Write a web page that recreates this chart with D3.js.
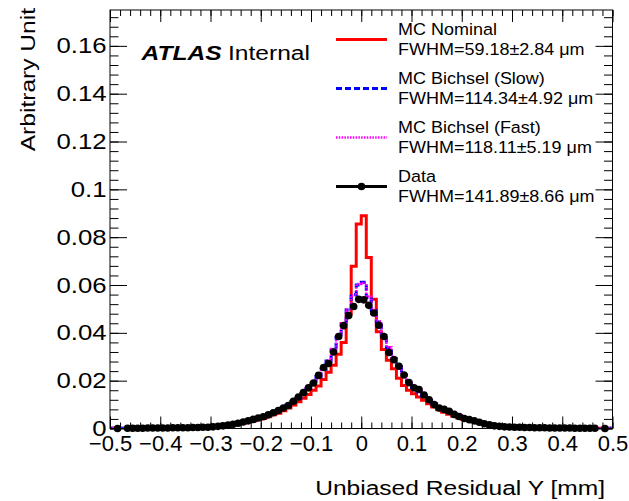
<!DOCTYPE html>
<html>
<head>
<meta charset="utf-8">
<script src="https://cdn.jsdelivr.net/npm/d3@7"></script>
<style>
  body { margin: 0; background: #fff; }
  text { font-family: "Liberation Sans", Arial, sans-serif; fill: #000; }
</style>
</head>
<body>
<svg width="629" height="501"></svg>
<script>
// bin centres (100 bins of 0.01 mm)
const binCenters = [
  -0.495,-0.485,-0.475,-0.465,-0.455,-0.445,-0.435,-0.425,-0.415,-0.405,
  -0.395,-0.385,-0.375,-0.365,-0.355,-0.345,-0.335,-0.325,-0.315,-0.305,
  -0.295,-0.285,-0.275,-0.265,-0.255,-0.245,-0.235,-0.225,-0.215,-0.205,
  -0.195,-0.185,-0.175,-0.165,-0.155,-0.145,-0.135,-0.125,-0.115,-0.105,
  -0.095,-0.085,-0.075,-0.065,-0.055,-0.045,-0.035,-0.025,-0.015,-0.005,
  0.005,0.015,0.025,0.035,0.045,0.055,0.065,0.075,0.085,0.095,
  0.105,0.115,0.125,0.135,0.145,0.155,0.165,0.175,0.185,0.195,
  0.205,0.215,0.225,0.235,0.245,0.255,0.265,0.275,0.285,0.295,
  0.305,0.315,0.325,0.335,0.345,0.355,0.365,0.375,0.385,0.395,
  0.405,0.415,0.425,0.435,0.445,0.455,0.465,0.475,0.485,0.495
];

// MC Nominal
const mcNominal = [
  0.0001,0.0001,0.0001,0.0001,0.0001,0.0001,0.0001,0.0001,0.0002,0.0002,
  0.0002,0.0002,0.0002,0.0002,0.0003,0.0003,0.0003,0.0004,0.0004,0.0005,
  0.0006,0.0008,0.0010,0.0012,0.0016,0.0019,0.0023,0.0027,0.0032,0.0037,
  0.0042,0.0049,0.0057,0.0064,0.0074,0.0086,0.0098,0.0112,0.0126,0.0142,
  0.0160,0.0178,0.0205,0.0235,0.0265,0.0310,0.0360,0.0480,0.0678,0.0855,
  0.0890,0.0715,0.0540,0.0405,0.0330,0.0285,0.0250,0.0210,0.0180,0.0160,
  0.0145,0.0132,0.0118,0.0104,0.0090,0.0078,0.0068,0.0060,0.0051,0.0044,
  0.0038,0.0033,0.0028,0.0023,0.0019,0.0015,0.0012,0.0010,0.0008,0.0006,
  0.0005,0.0004,0.0004,0.0003,0.0003,0.0003,0.0002,0.0002,0.0002,0.0002,
  0.0002,0.0002,0.0001,0.0001,0.0001,0.0001,0.0001,0.0001,0.0001,0.0001
];

// MC Bichsel (Slow)
const mcBichselSlow = [
  0.0001,0.0001,0.0001,0.0001,0.0001,0.0001,0.0001,0.0002,0.0002,0.0002,
  0.0002,0.0002,0.0003,0.0003,0.0003,0.0003,0.0004,0.0004,0.0005,0.0005,
  0.0007,0.0009,0.0011,0.0014,0.0018,0.0022,0.0026,0.0031,0.0036,0.0042,
  0.0048,0.0056,0.0064,0.0074,0.0085,0.0097,0.0112,0.0128,0.0146,0.0166,
  0.0188,0.0216,0.0248,0.0282,0.0328,0.0382,0.0438,0.0495,0.0560,0.0600,
  0.0612,0.0548,0.0493,0.0445,0.0392,0.0338,0.0292,0.0258,0.0224,0.0194,
  0.0172,0.0153,0.0136,0.0118,0.0103,0.0090,0.0079,0.0069,0.0060,0.0052,
  0.0045,0.0039,0.0033,0.0028,0.0023,0.0018,0.0014,0.0011,0.0009,0.0007,
  0.0006,0.0005,0.0004,0.0004,0.0003,0.0003,0.0003,0.0002,0.0002,0.0002,
  0.0002,0.0002,0.0001,0.0001,0.0001,0.0001,0.0001,0.0001,0.0001,0.0001
];

// MC Bichsel (Fast)
const mcBichselFast = [
  0.0002,0.0001,0.0001,0.0001,0.0001,0.0001,0.0001,0.0002,0.0002,0.0002,
  0.0002,0.0002,0.0003,0.0003,0.0003,0.0004,0.0004,0.0004,0.0005,0.0006,
  0.0007,0.0009,0.0012,0.0015,0.0018,0.0022,0.0027,0.0032,0.0037,0.0043,
  0.0049,0.0057,0.0065,0.0075,0.0086,0.0098,0.0113,0.0130,0.0148,0.0168,
  0.0190,0.0218,0.0250,0.0285,0.0332,0.0385,0.0440,0.0498,0.0556,0.0604,
  0.0608,0.0552,0.0497,0.0448,0.0395,0.0340,0.0294,0.0260,0.0226,0.0196,
  0.0174,0.0155,0.0137,0.0120,0.0104,0.0091,0.0080,0.0070,0.0061,0.0053,
  0.0046,0.0039,0.0034,0.0028,0.0023,0.0019,0.0015,0.0012,0.0009,0.0007,
  0.0006,0.0005,0.0004,0.0004,0.0003,0.0003,0.0003,0.0002,0.0002,0.0002,
  0.0002,0.0002,0.0001,0.0001,0.0001,0.0001,0.0001,0.0001,0.0001,0.0002
];

// Data (null = empty bin, no marker)
const dataValues = [
  null,0.0000,null,0.0001,0.0001,0.0001,0.0001,0.0002,0.0002,0.0002,
  0.0002,0.0002,0.0003,0.0003,0.0003,0.0003,0.0004,0.0004,0.0005,0.0005,
  0.0007,0.0009,0.0011,0.0014,0.0018,0.0022,0.0027,0.0032,0.0038,0.0044,
  0.0049,0.0057,0.0066,0.0075,0.0086,0.0096,0.0114,0.0132,0.0150,0.0170,
  0.0190,0.0222,0.0255,0.0272,0.0320,0.0385,0.0430,0.0472,0.0510,0.0540,
  0.0538,0.0515,0.0483,0.0432,0.0385,0.0318,0.0288,0.0260,0.0224,0.0192,
  0.0170,0.0163,0.0140,0.0120,0.0100,0.0086,0.0080,0.0072,0.0059,0.0050,
  0.0042,0.0037,0.0032,0.0026,0.0020,0.0015,0.0011,0.0009,0.0007,0.0006,
  0.0005,0.0005,0.0004,0.0004,0.0003,0.0003,0.0003,0.0002,0.0002,0.0002,
  0.0002,0.0002,0.0001,0.0001,0.0001,0.0001,0.0001,null,0.0000,null
];

const xTickValues = [-0.5,-0.4,-0.3,-0.2,-0.1,0,0.1,0.2,0.3,0.4,0.5];
const xTickLabels = ["\u22120.5","\u22120.4","\u22120.3","\u22120.2","\u22120.1","0","0.1","0.2","0.3","0.4","0.5"];
const yTickValues = [0,0.02,0.04,0.06,0.08,0.1,0.12,0.14,0.16];
const yTickLabels = ["0","0.02","0.04","0.06","0.08","0.1","0.12","0.14","0.16"];

const legendTitles = ["MC Nominal","MC Bichsel (Slow)","MC Bichsel (Fast)","Data"];
const legendFwhm = ["FWHM=59.18\u00b12.84 \u03bcm","FWHM=114.34\u00b14.92 \u03bcm","FWHM=118.11\u00b15.19 \u03bcm","FWHM=141.89\u00b18.66 \u03bcm"];

// ---- drawing ----
const svg = d3.select("svg");
const frameL = 110, frameR = 612.5, frameT = 10, frameB = 428.5;
const binWidth = 0.01;
const SX = 1.17; // reference font is wider than Arial at the same height

const x = d3.scaleLinear().domain([-0.5, 0.5]).range([frameL, frameR]);
const y = d3.scaleLinear().domain([0, 0.175]).range([frameB, frameT]);

svg.append("defs").append("clipPath").attr("id", "frame")
  .append("rect").attr("x", frameL).attr("y", frameT)
  .attr("width", frameR - frameL).attr("height", frameB - frameT);

// step outline of a histogram
function histPoints(values) {
  const n = values.length;
  const pts = [[binCenters[0] - binWidth / 2, 0]];
  values.forEach((v, i) => pts.push([binCenters[i] - binWidth / 2, v || 0]));
  pts.push([binCenters[n - 1] + binWidth / 2, values[n - 1] || 0]);
  pts.push([binCenters[n - 1] + binWidth / 2, 0]);
  return pts;
}
const step = d3.line().x(d => x(d[0])).y(d => y(d[1])).curve(d3.curveStepAfter);

const plot = svg.append("g").attr("clip-path", "url(#frame)");
plot.append("path").attr("d", step(histPoints(mcNominal)))
  .attr("fill", "none").attr("stroke", "#ff0000").attr("stroke-width", 3);
plot.append("path").attr("d", step(histPoints(mcBichselSlow)))
  .attr("fill", "none").attr("stroke", "#0000ff").attr("stroke-width", 3)
  .attr("stroke-dasharray", "6,3");
plot.append("path").attr("d", step(histPoints(mcBichselFast)))
  .attr("fill", "none").attr("stroke", "#ff00ff").attr("stroke-width", 2.5)
  .attr("stroke-dasharray", "1.5,1.3");

// data points with horizontal bin-width bars
const pts = binCenters.map((c, i) => ({ c: c, v: dataValues[i] })).filter(d => d.v !== null);
svg.append("g").selectAll("line").data(pts).enter().append("line")
  .attr("x1", d => x(d.c - binWidth / 2)).attr("x2", d => x(d.c + binWidth / 2))
  .attr("y1", d => y(d.v)).attr("y2", d => y(d.v))
  .attr("stroke", "#000").attr("stroke-width", 2);
svg.append("g").selectAll("circle").data(pts).enter().append("circle")
  .attr("cx", d => x(d.c)).attr("cy", d => y(d.v)).attr("r", 3.8)
  .attr("fill", "#000");

// axes
const xMinor = d3.range(-0.5, 0.5001, 0.02);
const yMinor = d3.range(0, 0.1751, 0.004);

function styleAxis(g) {
  g.select(".domain").remove();
  g.selectAll("line").attr("stroke", "#000").attr("stroke-width", 1);
}

const gxb = svg.append("g").attr("transform", `translate(0,${frameB})`)
  .call(d3.axisBottom(x).tickValues(xTickValues).tickFormat((d, i) => xTickLabels[i])
    .tickSizeInner(-12).tickSizeOuter(0).tickPadding(7));
gxb.attr("font-size", 22).attr("font-family", null).call(styleAxis);
svg.append("g").attr("transform", `translate(0,${frameB})`)
  .call(d3.axisBottom(x).tickValues(xMinor).tickFormat("").tickSizeInner(-6).tickSizeOuter(0))
  .call(styleAxis);

svg.append("g").attr("transform", `translate(0,${frameT})`)
  .call(d3.axisTop(x).tickValues(xTickValues).tickFormat("").tickSizeInner(-12).tickSizeOuter(0))
  .call(styleAxis);
svg.append("g").attr("transform", `translate(0,${frameT})`)
  .call(d3.axisTop(x).tickValues(xMinor).tickFormat("").tickSizeInner(-6).tickSizeOuter(0))
  .call(styleAxis);

const gyl = svg.append("g").attr("transform", `translate(${frameL},0)`)
  .call(d3.axisLeft(y).tickValues(yTickValues).tickFormat((d, i) => yTickLabels[i])
    .tickSizeInner(-17).tickSizeOuter(0).tickPadding(3));
gyl.attr("font-size", 22).attr("font-family", null).call(styleAxis);
gyl.selectAll("text").attr("transform", `scale(${SX},1)`);
svg.append("g").attr("transform", `translate(${frameL},0)`)
  .call(d3.axisLeft(y).tickValues(yMinor).tickFormat("").tickSizeInner(-8.5).tickSizeOuter(0))
  .call(styleAxis);

svg.append("g").attr("transform", `translate(${frameR},0)`)
  .call(d3.axisRight(y).tickValues(yTickValues).tickFormat("").tickSizeInner(-17).tickSizeOuter(0))
  .call(styleAxis);
svg.append("g").attr("transform", `translate(${frameR},0)`)
  .call(d3.axisRight(y).tickValues(yMinor).tickFormat("").tickSizeInner(-8.5).tickSizeOuter(0))
  .call(styleAxis);

svg.append("rect").attr("x", frameL).attr("y", frameT)
  .attr("width", frameR - frameL).attr("height", frameB - frameT)
  .attr("fill", "none").attr("stroke", "#000").attr("stroke-width", 1);

// axis titles
svg.append("text").attr("transform", `translate(605,495) scale(${SX},1)`)
  .attr("text-anchor", "end").attr("font-size", 21)
  .text("Unbiased Residual Y [mm]");
svg.append("text").attr("transform", `translate(35,8) rotate(-90) scale(${SX},1)`)
  .attr("text-anchor", "end").attr("font-size", 21)
  .text("Arbitrary Unit");

// ATLAS label
svg.append("text").attr("transform", `translate(141.5,60) scale(${SX},1)`)
  .attr("font-size", 21).attr("font-weight", "bold").attr("font-style", "italic")
  .text("ATLAS");
svg.append("text").attr("transform", `translate(228,60) scale(${SX},1)`)
  .attr("font-size", 21).text("Internal");

// legend
const legY = d3.scaleLinear().domain([0, 3]).range([39.5, 186.5]);
const leg = svg.append("g");
const legStyles = [
  { color: "#ff0000", width: 3, dash: null },
  { color: "#0000ff", width: 3, dash: "6,3" },
  { color: "#ff00ff", width: 2.5, dash: "1.5,1.3" },
  { color: "#000000", width: 3, dash: null }
];
legendTitles.forEach((t, i) => {
  const yy = legY(i);
  leg.append("line").attr("x1", 336).attr("x2", 387).attr("y1", yy).attr("y2", yy)
    .attr("stroke", legStyles[i].color).attr("stroke-width", legStyles[i].width)
    .attr("stroke-dasharray", legStyles[i].dash);
  if (i === 3) {
    leg.append("circle").attr("cx", 361.5).attr("cy", yy).attr("r", 3.8).attr("fill", "#000");
  }
  leg.append("text").attr("transform", `translate(398,${yy - 5}) scale(1.09,1)`)
    .attr("font-size", 16.5).text(t);
  leg.append("text").attr("transform", `translate(398,${yy + 15.5}) scale(1.09,1)`)
    .attr("font-size", 16.5).text(legendFwhm[i]);
});
</script>
</body>
</html>
